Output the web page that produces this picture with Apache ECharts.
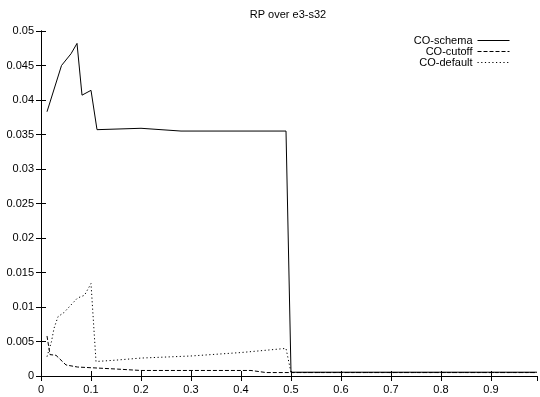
<!DOCTYPE html>
<html><head><meta charset="utf-8">
<script src="https://cdn.jsdelivr.net/npm/echarts@6/dist/echarts.min.js"></script>
<style>html,body{margin:0;padding:0;background:#fff}#c{width:540px;height:397px}</style>
</head><body><div id="c"></div>
<script>
const titleText = "RP over e3-s32";
const seriesNames = ["CO-schema", "CO-cutoff", "CO-default"];

const schemaX = [0.012, 0.041, 0.060, 0.072, 0.082, 0.100, 0.112, 0.200, 0.280, 0.490, 0.500, 0.992];
const schemaY = [0.0383, 0.0450, 0.0467, 0.0482, 0.0407, 0.0414, 0.0357, 0.0359, 0.0355, 0.0355, 0.00055, 0.00055];

const cutoffX = [0.012, 0.018, 0.030, 0.050, 0.073, 0.100, 0.153, 0.200, 0.420, 0.450, 0.500, 0.992];
const cutoffY = [0.0058, 0.0031, 0.0030, 0.0016, 0.0013, 0.0012, 0.0010, 0.0008, 0.0008, 0.0005, 0.0005, 0.0005];

const defaultX = [0.012, 0.021, 0.026, 0.034, 0.046, 0.060, 0.073, 0.087, 0.100, 0.110, 0.150, 0.200, 0.300, 0.400, 0.490, 0.500, 0.992];
const defaultY = [0.0028, 0.0050, 0.0069, 0.0086, 0.0092, 0.0103, 0.0113, 0.0117, 0.0134, 0.0021, 0.0023, 0.0026, 0.0029, 0.0034, 0.0040, 0.0005, 0.0005];

const xTicks = [0, 0.1, 0.2, 0.3, 0.4, 0.5, 0.6, 0.7, 0.8, 0.9];
const yTicks = [0, 0.005, 0.01, 0.015, 0.02, 0.025, 0.03, 0.035, 0.04, 0.045, 0.05];

function pairs(xs, ys) { return xs.map((x, i) => [x, ys[i]]); }
const fmt = v => String(parseFloat(v.toFixed(3)));
const FONT = "Liberation Sans";

const chart = echarts.init(document.getElementById('c'), null, {renderer: 'canvas'});
const xBase = {type: 'value', min: 0, max: 0.992, interval: 0.1, splitLine: {show: false},
  axisLine: {lineStyle: {color: '#000', width: 1}}, axisTick: {inside: true, length: 5, lineStyle: {color: '#000'}}};
const yBase = {type: 'value', min: 0, max: 0.05, interval: 0.005, splitLine: {show: false},
  axisLine: {lineStyle: {color: '#000', width: 1}}, axisTick: {inside: true, length: 5, lineStyle: {color: '#000'}}};

chart.setOption({
  animation: false,
  backgroundColor: '#fff',
  title: {text: titleText, left: 283, top: 4, textAlign: 'center',
    textStyle: {fontFamily: FONT, fontSize: 11, fontWeight: 'normal', color: '#000'}},
  grid: {left: 41, right: 3, top: 31, bottom: 21},
  legend: {data: seriesNames, orient: 'vertical', right: 30, top: 35, align: 'right',
    itemWidth: 32, itemHeight: 9, itemGap: 0, padding: 0,
    itemStyle: {opacity: 0},
    lineStyle: {width: 1},
    textStyle: {fontFamily: FONT, fontSize: 11, color: '#000', lineHeight: 11}},
  xAxis: [
    Object.assign({}, xBase, {position: 'bottom',
      axisLabel: {fontFamily: FONT, fontSize: 11, color: '#000', margin: 8, showMaxLabel: false,
        formatter: v => xTicks.some(t => Math.abs(t - v) < 1e-9) ? fmt(v) : ''}}),
    Object.assign({}, xBase, {position: 'top', axisLabel: {show: false}})
  ],
  yAxis: [
    Object.assign({}, yBase, {position: 'left',
      axisLabel: {fontFamily: FONT, fontSize: 11, color: '#000', margin: 7,
        formatter: v => yTicks.some(t => Math.abs(t - v) < 1e-9) ? fmt(v) : ''}}),
    Object.assign({}, yBase, {position: 'right', axisLabel: {show: false}})
  ],
  series: [
    {name: seriesNames[0], type: 'line', data: pairs(schemaX, schemaY), showSymbol: false, symbol: 'none',
      lineStyle: {color: '#000', width: 1, type: 'solid'}, itemStyle: {color: '#000'}},
    {name: seriesNames[1], type: 'line', data: pairs(cutoffX, cutoffY), showSymbol: false, symbol: 'none',
      lineStyle: {color: '#000', width: 1, type: [4, 2]}, itemStyle: {color: '#000'}},
    {name: seriesNames[2], type: 'line', data: pairs(defaultX, defaultY), showSymbol: false, symbol: 'none',
      lineStyle: {color: '#000', width: 1, type: [1.2, 2.5]}, itemStyle: {color: '#000'}}
  ]
});
</script></body></html>
